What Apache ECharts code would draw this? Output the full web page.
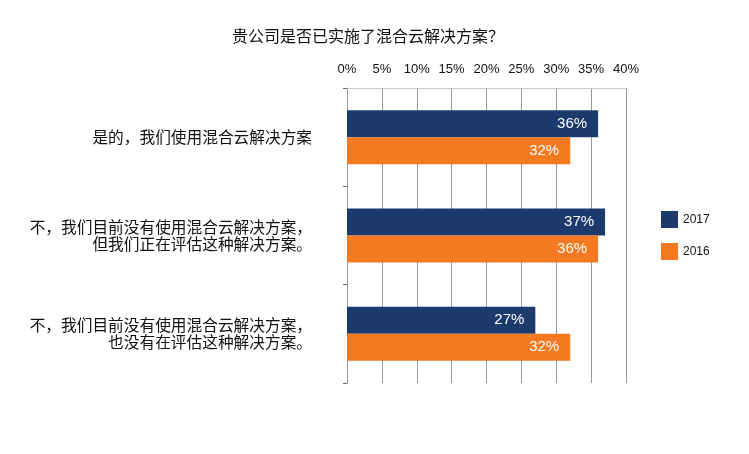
<!DOCTYPE html>
<html>
<head>
<meta charset="utf-8">
<script src="https://cdn.jsdelivr.net/npm/echarts@6/dist/echarts.min.js"></script>
<style>
  html, body { margin: 0; padding: 0; background: #fff; }
  #chart { width: 749px; height: 454px; }
</style>
</head>
<body>
<div id="chart"></div>
<script>
const categories = [
  '是的，我们使用混合云解决方案',
  '不，我们目前没有使用混合云解决方案，\n但我们正在评估这种解决方案。',
  '不，我们目前没有使用混合云解决方案，\n也没有在评估这种解决方案。'
]
const values2017 = [36, 37, 27]
const values2016 = [32, 36, 32]
const seriesNames = ['2017', '2016']

const chart = echarts.init(document.getElementById('chart'))

const barLabel = {
  show: true,
  position: 'insideRight',
  distance: 11,
  color: '#fff',
  fontSize: 15,
  fontFamily: 'Liberation Sans, Arial, sans-serif',
  formatter: p => p.value + '%'
}

const option = {
  animation: false,
  title: {
    text: '贵公司是否已实施了混合云解决方案？',
    left: 363,
    top: 23,
    textAlign: 'center',
    textStyle: {
      fontSize: 16,
      fontWeight: 'normal',
      color: '#111',
      fontFamily: 'Noto Sans CJK SC'
    }
  },
  legend: {
    orient: 'vertical',
    left: 656,
    top: 206,
    itemWidth: 17,
    itemHeight: 17,
    itemGap: 15,
    icon: 'rect',
    data: seriesNames,
    textStyle: {
      fontSize: 12,
      color: '#111',
      fontFamily: 'Liberation Sans, Arial, sans-serif'
    }
  },
  grid: {
    left: 347,
    top: 88,
    width: 279,
    height: 295
  },
  xAxis: {
    type: 'value',
    position: 'top',
    min: 0,
    max: 40,
    interval: 5,
    axisLabel: {
      formatter: '{value}%',
      color: '#111',
      fontSize: 13,
      margin: 12,
      fontFamily: 'Liberation Sans, Arial, sans-serif'
    },
    axisLine: { show: true, lineStyle: { color: '#ccc' } },
    axisTick: { show: false },
    splitLine: { show: true, lineStyle: { color: '#999', width: 1 } }
  },
  yAxis: {
    type: 'category',
    inverse: true,
    data: categories,
    axisLine: { show: true, lineStyle: { color: '#999' } },
    axisTick: { show: true, length: 4, lineStyle: { color: '#666' } },
    axisLabel: {
      color: '#111',
      fontSize: 15.7,
      margin: 35,
      lineHeight: 17,
      align: 'right',
      fontFamily: 'Noto Sans CJK SC'
    }
  },
  series: [
    {
      name: seriesNames[0],
      type: 'bar',
      data: values2017,
      barWidth: 27,
      barGap: '0%',
      itemStyle: { color: '#1c3a6b' },
      label: barLabel
    },
    {
      name: seriesNames[1],
      type: 'bar',
      data: values2016,
      barWidth: 27,
      barGap: '0%',
      itemStyle: { color: '#f47920' },
      label: barLabel
    }
  ]
}

chart.setOption(option)
window.addEventListener('resize', () => { chart.resize() })
</script>
</body>
</html>
